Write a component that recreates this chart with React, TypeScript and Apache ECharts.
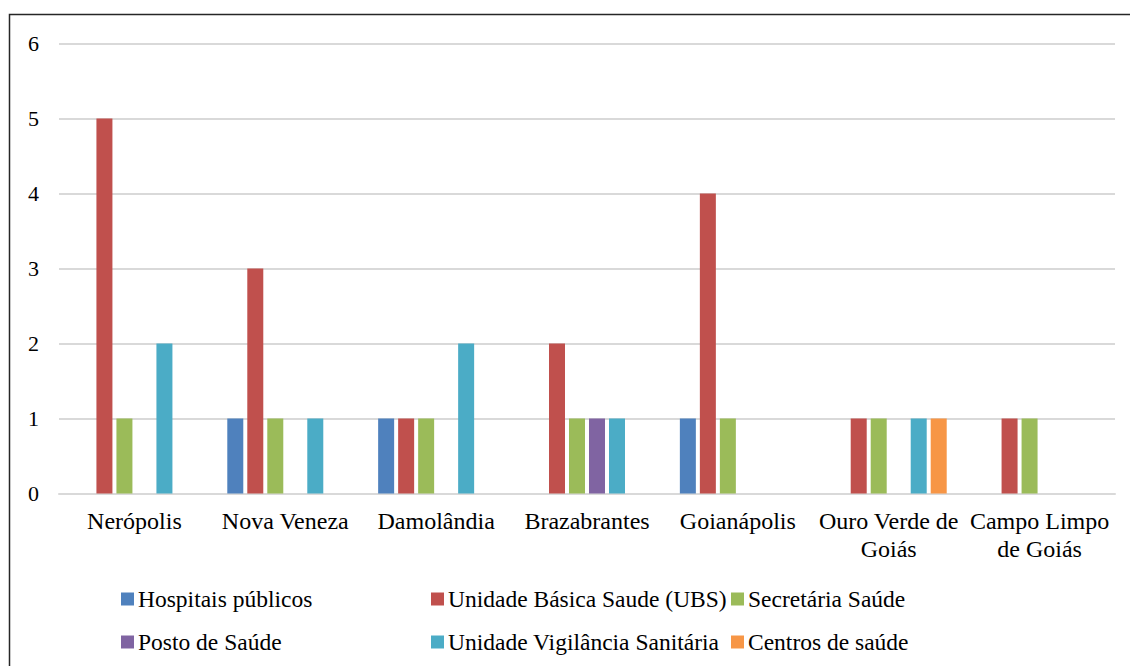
import React, { useEffect, useRef } from "react";
import * as echarts from "echarts";

const categories = [
  "Nerópolis",
  "Nova Veneza",
  "Damolândia",
  "Brazabrantes",
  "Goianápolis",
  "Ouro Verde de\nGoiás",
  "Campo Limpo\nde Goiás",
];

const seriesNames = [
  "Hospitais públicos",
  "Unidade Básica Saude (UBS)",
  "Secretária Saúde",
  "Posto de Saúde",
  "Unidade Vigilância Sanitária",
  "Centros de saúde",
];

const hospitais = [0, 1, 1, 0, 1, 0, 0];
const ubs = [5, 3, 1, 2, 4, 1, 1];
const secretaria = [1, 1, 1, 1, 1, 1, 1];
const posto = [0, 0, 0, 1, 0, 0, 0];
const vigilancia = [2, 1, 2, 1, 0, 1, 0];
const centros = [0, 0, 0, 0, 0, 1, 0];

const yTicks = [0, 1, 2, 3, 4, 5, 6];

const colors = ["#4F81BD", "#C0504D", "#9BBB59", "#8064A2", "#4BACC6", "#F79646"];

const FONT = "Liberation Serif";

export default function App() {
  const ref = useRef<HTMLDivElement>(null);
  useEffect(() => {
    if (!ref.current) return;
    const chart = echarts.init(ref.current, null, { renderer: "svg" });
    const values = [hospitais, ubs, secretaria, posto, vigilancia, centros];
    const legendPos = [
      { left: 121, top: 587 },
      { left: 431, top: 587 },
      { left: 731, top: 587 },
      { left: 121, top: 630 },
      { left: 431, top: 630 },
      { left: 731, top: 630 },
    ];
    chart.setOption({
      animation: false,
      color: colors,
      textStyle: { fontFamily: FONT },
      grid: { left: 59, right: 15, top: 43.5, bottom: 172.5, containLabel: false },
      graphic: [
        {
          type: "rect",
          shape: { x: 9.5, y: 14.5, width: 1140, height: 700 },
          style: { fill: "none", stroke: "#262626", lineWidth: 1.5 },
          silent: true,
        },
      ],
      legend: seriesNames.map((n, i) => ({
        data: [n],
        left: legendPos[i].left,
        top: legendPos[i].top,
        icon: "rect",
        itemWidth: 13,
        itemHeight: 13,
        itemGap: 0,
        selectedMode: false,
        padding: 0,
        textStyle: { fontFamily: FONT, fontSize: 23.5, color: "#000", lineHeight: 24, padding: [0, 0, 0, -1] },
      })),
      xAxis: {
        type: "category",
        data: categories,
        axisLine: { show: true, lineStyle: { color: "#d9d9d9", width: 2 } },
        axisTick: { show: false },
        axisLabel: {
          interval: 0,
          fontFamily: FONT,
          fontSize: 24,
          color: "#000",
          lineHeight: 28,
          margin: 13,
        },
      },
      yAxis: {
        type: "value",
        min: yTicks[0],
        max: yTicks[yTicks.length - 1],
        interval: 1,
        axisLine: { show: false },
        axisTick: { show: false },
        splitLine: { lineStyle: { color: "#d9d9d9", width: 2 } },
        axisLabel: { fontFamily: FONT, fontSize: 22, color: "#000", margin: 20 },
      },
      series: seriesNames.map((n, i) => ({
        name: n,
        type: "bar",
        data: values[i],
        barWidth: 16,
        barGap: "25%",
        itemStyle: { color: colors[i] },
      })),
    });
    return () => chart.dispose();
  }, []);
  return (
    <div
      ref={ref}
      style={{ position: "fixed", left: 0, top: 0, width: 1130, height: 666, background: "#fff" }}
    />
  );
}
